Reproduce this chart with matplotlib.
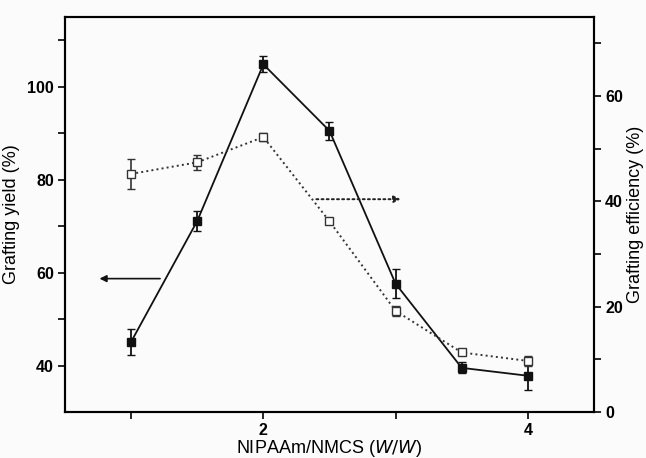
import matplotlib.pyplot as plt
from matplotlib.ticker import MultipleLocator, FixedLocator

plt.rcParams['font.family'] = ['Liberation Sans', 'DejaVu Sans']

ratio = [1, 1.5, 2, 2.5, 3, 3.5, 4]
yield_pct = [45.1, 71.1, 104.8, 90.5, 57.6, 39.5, 37.8]
yield_err = [2.8, 2.2, 1.7, 2.0, 3.1, 1.2, 3.0]
eff_pct = [45.2, 47.4, 52.2, 36.2, 19.2, 11.3, 9.7]
eff_err = [2.9, 1.4, 0.8, 0.5, 1.0, 0.5, 1.0]

fig = plt.figure(figsize=(6.46, 4.58), dpi=100)
fig.patch.set_facecolor('#fbfbfb')
ax = fig.add_axes([0.1006, 0.1004, 0.8189, 0.8626])
ax.set_facecolor('#fbfbfb')
ax2 = ax.twinx()

ax.errorbar(ratio, yield_pct, yerr=yield_err, color='#111111', lw=1.3,
            marker='s', ms=6, mfc='#111111', capsize=3, elinewidth=1.3, zorder=3)
ax2.errorbar(ratio, eff_pct, yerr=eff_err, color='#333333', lw=1.4, ls=':',
             marker='s', ms=6, mfc='white', mec='#333333', capsize=3,
             elinewidth=1.2, zorder=3)

ax.annotate('', xy=(0.74, 58.7), xytext=(1.24, 58.7),
            arrowprops=dict(arrowstyle='-|>', color='#111111', lw=1.2,
                            mutation_scale=10))
ax2.annotate('', xy=(3.06, 40.4), xytext=(2.38, 40.4),
             arrowprops=dict(arrowstyle='-|>', color='#222222', lw=1.4,
                             ls=':', mutation_scale=10))

ax.set_xlim(0.5, 4.5)
ax.set_ylim(30, 115)
ax2.set_ylim(0, 75)

ax.xaxis.set_major_locator(FixedLocator([2, 4]))
ax.xaxis.set_minor_locator(FixedLocator([1, 3]))
ax.yaxis.set_major_locator(MultipleLocator(20))
ax.yaxis.set_minor_locator(FixedLocator([50, 70, 90, 110]))
ax2.yaxis.set_major_locator(MultipleLocator(20))
ax2.yaxis.set_minor_locator(FixedLocator([10, 30, 50, 70]))

for a in (ax, ax2):
    a.tick_params(which='major', direction='out', length=5, width=1.2,
                  labelsize=11.5, pad=3)
    a.tick_params(which='minor', direction='out', length=5, width=1.2)
    for lab in a.get_xticklabels() + a.get_yticklabels():
        lab.set_fontweight('bold')
    for s in a.spines.values():
        s.set_linewidth(1.5)

ax.set_xlabel('NIPAAm/NMCS ($\\mathit{W/W}$)', fontsize=13, labelpad=0)
ax.set_ylabel('Grafting yield (%)', fontsize=13, labelpad=5)
ax2.set_ylabel('Grafting efficiency (%)', fontsize=13, labelpad=3)

plt.savefig('out.png', dpi=100, facecolor=fig.get_facecolor())
